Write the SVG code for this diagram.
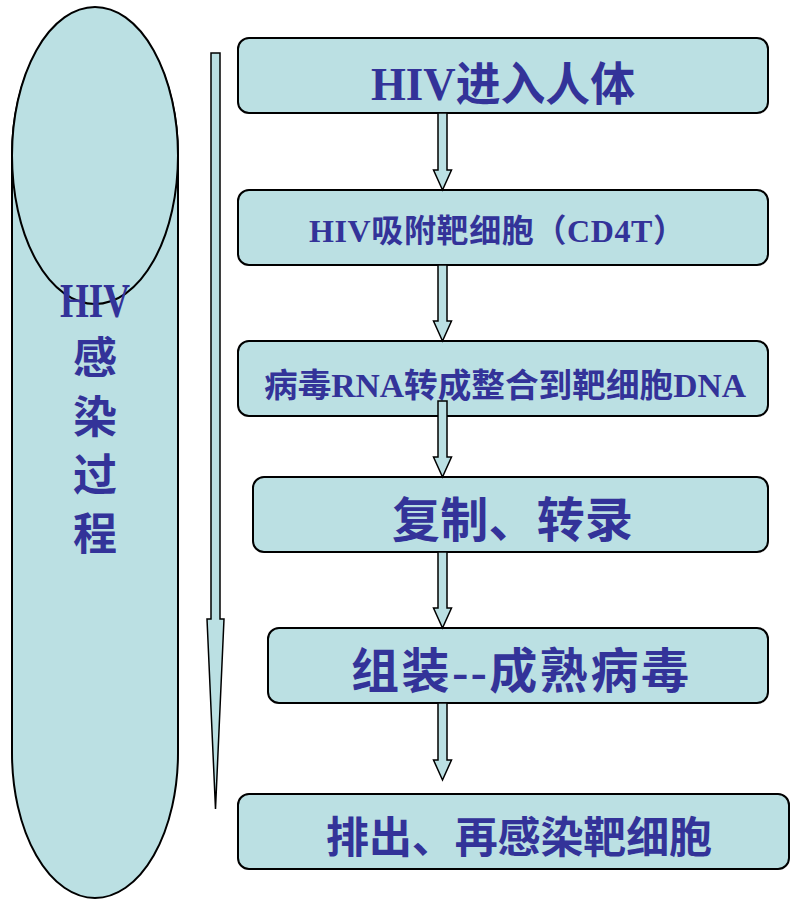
<svg xmlns="http://www.w3.org/2000/svg" width="790" height="900" viewBox="0 0 790 900">
<style>
.shape{fill:#BBE0E3;stroke:#000;stroke-width:2}
.arr{fill:#BBE0E3;stroke:#000;stroke-width:1.5;stroke-linejoin:miter}
.t{fill:#333399;font-family:"Liberation Serif","Noto Sans CJK SC",serif;font-weight:bold}
</style>
<rect width="790" height="900" fill="#fff"/>
<g id="side">
<path class="shape" d="M12,155 A83,145 0 0 1 178,155 L178,753 A83,145 0 0 1 12,753 Z"/>
<ellipse class="shape" cx="95" cy="155.5" rx="83" ry="148.5"/>
<text class="t" x="60" y="317" font-size="48" textLength="70" lengthAdjust="spacingAndGlyphs">HIV</text>
<text class="t" x="95" y="374" font-size="44" text-anchor="middle">感</text>
<text class="t" x="95" y="433" font-size="44" text-anchor="middle">染</text>
<text class="t" x="95" y="491" font-size="44" text-anchor="middle">过</text>
<text class="t" x="95" y="550" font-size="44" text-anchor="middle">程</text>
</g>
<g id="n1">
<rect class="shape" x="238" y="38" width="530" height="75" rx="11"/>
<text class="t" x="371" y="99.5" font-size="46" textLength="264" lengthAdjust="spacingAndGlyphs">HIV进入人体</text>
</g>
<g id="n2">
<rect class="shape" x="238" y="190" width="530" height="75" rx="11"/>
<text class="t" x="309" y="242" font-size="32" textLength="376" lengthAdjust="spacing">HIV吸附靶细胞（CD4T）</text>
</g>
<g id="n3">
<rect class="shape" x="238" y="341" width="530" height="75" rx="11"/>
<text class="t" x="264" y="396.5" font-size="33" textLength="482" lengthAdjust="spacingAndGlyphs">病毒RNA转成整合到靶细胞DNA</text>
</g>
<g id="n4">
<rect class="shape" x="253" y="477" width="515" height="75" rx="11"/>
<text class="t" x="392" y="536.5" font-size="48" textLength="241" lengthAdjust="spacing">复制、转录</text>
</g>
<g id="n5">
<rect class="shape" x="268" y="628" width="500" height="75" rx="11"/>
<text class="t" x="351" y="687.5" font-size="48" textLength="338" lengthAdjust="spacing">组装--成熟病毒</text>
</g>
<g id="n6">
<rect class="shape" x="238" y="794" width="551" height="75" rx="11"/>
<text class="t" x="326" y="853" font-size="43" textLength="386" lengthAdjust="spacing">排出、再感染靶细胞</text>
</g>
<g id="connectors">
<polygon class="arr" points="211,53 220,53 220,619 224,619 215.5,809 207,619 211,619"/>
<polygon class="arr" points="438,113 447,113 447,170 451.5,170 442.5,190 433.5,170 438,170"/>
<polygon class="arr" points="438,265 447,265 447,321 451.5,321 442.5,341 433.5,321 438,321"/>
<polygon class="arr" points="438,401 447,401 447,457 451.5,457 442.5,477 433.5,457 438,457"/>
<polygon class="arr" points="438,552 447,552 447,608 451.5,608 442.5,628 433.5,608 438,608"/>
<polygon class="arr" points="438,703 447,703 447,760 451.5,760 442.5,780 433.5,760 438,760"/>
</g>
</svg>
